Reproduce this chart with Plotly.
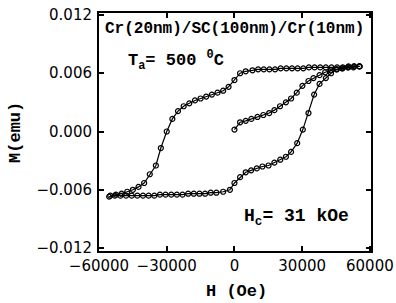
import plotly.graph_objects as go

# descending branch (from +H to -H)
h_down = [55500, 53000, 50500, 48000, 45500, 43000, 40500, 38000, 35500, 33000, 30500, 28000,
          25500, 23000, 20500, 18000, 15500, 13000, 10500, 8000, 5000, 2500, 0, -2600, -5000,
          -7500, -10000, -12500, -15000, -17500, -20000, -22500, -25000, -27500, -30000, -32600,
          -34800, -37500, -40000, -42500, -45000, -47500, -50000, -52500, -55000]
m_down = [0.0067, 0.0067, 0.0067, 0.0066, 0.0066, 0.0066, 0.0066, 0.0066, 0.0066, 0.0066, 0.0065,
          0.0065, 0.0065, 0.0065, 0.0065, 0.0064, 0.0064, 0.0064, 0.0064, 0.0063, 0.0062, 0.0060,
          0.0053, 0.0046, 0.0042, 0.0040, 0.0038, 0.0036, 0.0034, 0.0032, 0.0029, 0.0026, 0.0021,
          0.0013, 0.0000, -0.0017, -0.0035, -0.0044, -0.0053, -0.0057, -0.0060, -0.0062, -0.0064,
          -0.0065, -0.0066]

# ascending branch (from -H to +H)
h_up = [-55500, -53000, -50500, -48000, -45500, -43000, -40500, -38000, -35500, -33000, -30500,
        -28000, -25500, -23000, -20500, -18000, -15500, -13000, -10500, -8000, -5000, -2000, 0,
        2500, 5000, 7400, 9900, 12400, 15100, 17700, 20300, 22800, 25100, 27800, 30300, 32800,
        35300, 37700, 40500, 42800, 45400, 47900, 50500, 53000, 55400]
m_up = [-0.0067, -0.0066, -0.0066, -0.0066, -0.0066, -0.0066, -0.0066, -0.0066, -0.0066, -0.0065,
        -0.0065, -0.0065, -0.0065, -0.0065, -0.0064, -0.0064, -0.0064, -0.0064, -0.0063, -0.0063,
        -0.0062, -0.0060, -0.0053, -0.0047, -0.0042, -0.0040, -0.0038, -0.0036, -0.0035, -0.0032,
        -0.0029, -0.0026, -0.0021, -0.0012, 0.0002, 0.0019, 0.0038, 0.0049, 0.0055, 0.0060,
        0.0064, 0.0065, 0.0066, 0.0067, 0.0067]

# virgin curve
h_virgin = [0, 2500, 5000, 7500, 10200, 12800, 15400, 17700, 20200, 22800, 25100, 27600, 30100,
            32800, 35000, 37700, 40200, 42700, 45200, 47700, 50200, 52700, 55200]
m_virgin = [0.0002, 0.00095, 0.0011, 0.0013, 0.0015, 0.0017, 0.0019, 0.0022, 0.0026, 0.0030,
            0.0034, 0.0040, 0.0047, 0.0052, 0.0055, 0.0058, 0.0061, 0.0063, 0.0064, 0.0065,
            0.0066, 0.0066, 0.0067]

x_ticks = [-60000, -30000, 0, 30000, 60000]
y_ticks = [-0.012, -0.006, 0.0, 0.006, 0.012]

fig = go.Figure()
for hx, my in [(h_down, m_down), (h_up, m_up), (h_virgin, m_virgin)]:
    fig.add_trace(go.Scatter(
        x=hx, y=my, mode="lines+markers",
        line=dict(color="black", width=1.2),
        marker=dict(symbol="circle-open", size=5, color="black", line=dict(width=1.2)),
        showlegend=False))

axis_common = dict(showline=True, linewidth=2, linecolor="black", mirror="ticks",
                   ticks="inside", ticklen=5, tickwidth=1.5, tickcolor="black",
                   showgrid=False, zeroline=False, automargin=False,
                   tickfont=dict(family="DejaVu Sans", size=15, color="black"))

fig.update_xaxes(range=[-60000, 60500], tickvals=x_ticks, tickformat="d", **axis_common)
fig.update_yaxes(range=[-0.0123, 0.0122], tickvals=y_ticks, tickformat=".3f",
                 ticklabelstandoff=2, **axis_common)

mono = "Liberation Mono"
fig.add_annotation(text="<b>Cr(20nm)/SC(100nm)/Cr(10nm)</b>", xref="paper", yref="paper",
                   x=0.497, y=0.933, showarrow=False, xanchor="center", yanchor="middle",
                   font=dict(family=mono, size=16, color="black"))
fig.add_annotation(text="<b>T<sub>a</sub>= 500 <sup>0</sup>C</b>", xref="paper", yref="paper",
                   x=0.10, y=0.80, showarrow=False, xanchor="left", yanchor="middle",
                   font=dict(family=mono, size=17, color="black"))
fig.add_annotation(text="<b>H<sub>c</sub>= 31 kOe</b>", xref="paper", yref="paper",
                   x=0.525, y=0.14, showarrow=False, xanchor="left", yanchor="middle",
                   font=dict(family=mono, size=18, color="black"))
fig.add_annotation(text="<b>M(emu)</b>", xref="paper", yref="paper", textangle=-90,
                   x=-0.309, y=0.5, showarrow=False, xanchor="center", yanchor="middle",
                   font=dict(family=mono, size=17, color="black"))
fig.add_annotation(text="<b>H (Oe)</b>", xref="paper", yref="paper",
                   x=0.507, y=-0.172, showarrow=False, xanchor="center", yanchor="middle",
                   font=dict(family=mono, size=17, color="black"))

fig.update_layout(width=396, height=303, margin=dict(l=99, r=25, t=13, b=52),
                  plot_bgcolor="white", paper_bgcolor="white")

fig.write_html("out.html", config={"displayModeBar": False},
               post_script="document.body.style.margin='0';document.body.style.overflow='hidden';")
